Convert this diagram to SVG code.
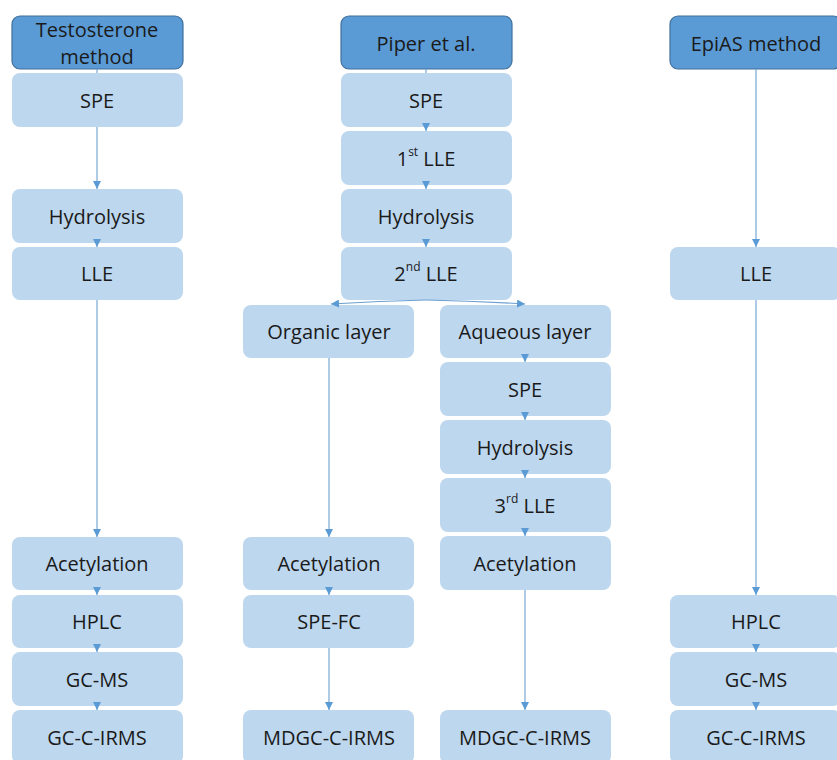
<svg xmlns="http://www.w3.org/2000/svg" width="837" height="760" viewBox="0 0 837 760">
<style>
.hdr{fill:#5b9bd5;stroke:#41719c;stroke-width:1.2}
.box{fill:#bdd7ee}
.t{font-family:"Open Sans","Liberation Sans",sans-serif;font-size:20px;fill:#1a1a1a;text-anchor:middle;dominant-baseline:central}
.sup{font-size:12px}
.c{fill:none;stroke:#6a9fd2;stroke-width:1.1}
</style>
<defs>
<marker id="ah" markerUnits="userSpaceOnUse" markerWidth="9" markerHeight="8" refX="8" refY="4" orient="auto">
<path d="M0,0 L8,4 L0,8 z" fill="#5b9bd5"/>
</marker>
</defs>
<rect width="837" height="760" fill="#ffffff"/>
<!-- column 1: Testosterone method -->
<g id="n-testo"><rect class="hdr" x="12" y="16" width="171" height="53" rx="8"/><text class="t" x="97" y="29">Testosterone</text><text class="t" x="97" y="56">method</text></g>
<g id="n-c1-spe"><rect class="box" x="12" y="73" width="171" height="54" rx="8"/><text class="t" x="97" y="100">SPE</text></g>
<g id="n-c1-hyd"><rect class="box" x="12" y="189" width="171" height="54" rx="8"/><text class="t" x="97" y="216">Hydrolysis</text></g>
<g id="n-c1-lle"><rect class="box" x="12" y="247" width="171" height="53" rx="8"/><text class="t" x="97" y="273">LLE</text></g>
<g id="n-c1-acet"><rect class="box" x="12" y="537" width="171" height="53" rx="8"/><text class="t" x="97" y="563">Acetylation</text></g>
<g id="n-c1-hplc"><rect class="box" x="12" y="595" width="171" height="53" rx="8"/><text class="t" x="97" y="621">HPLC</text></g>
<g id="n-c1-gcms"><rect class="box" x="12" y="652" width="171" height="54" rx="8"/><text class="t" x="97" y="679">GC-MS</text></g>
<g id="n-c1-irms"><rect class="box" x="12" y="710" width="171" height="54" rx="8"/><text class="t" x="97" y="737">GC-C-IRMS</text></g>
<!-- column 2: Piper et al. -->
<g id="n-piper"><rect class="hdr" x="341" y="16" width="171" height="53" rx="8"/><text class="t" x="426" y="43">Piper et al.</text></g>
<g id="n-p-spe"><rect class="box" x="341" y="73" width="171" height="54" rx="8"/><text class="t" x="426" y="100">SPE</text></g>
<g id="n-p-lle1"><rect class="box" x="341" y="131" width="171" height="54" rx="8"/><text class="t" x="426" y="158">1<tspan class="sup" dy="-7">st</tspan><tspan dy="7"> LLE</tspan></text></g>
<g id="n-p-hyd"><rect class="box" x="341" y="189" width="171" height="54" rx="8"/><text class="t" x="426" y="216">Hydrolysis</text></g>
<g id="n-p-lle2"><rect class="box" x="341" y="247" width="171" height="53" rx="8"/><text class="t" x="426" y="273">2<tspan class="sup" dy="-7">nd</tspan><tspan dy="7"> LLE</tspan></text></g>
<g id="n-org"><rect class="box" x="243" y="305" width="171" height="53" rx="8"/><text class="t" x="329" y="331">Organic layer</text></g>
<g id="n-org-acet"><rect class="box" x="243" y="537" width="171" height="53" rx="8"/><text class="t" x="329" y="563">Acetylation</text></g>
<g id="n-org-spefc"><rect class="box" x="243" y="595" width="171" height="53" rx="8"/><text class="t" x="329" y="621">SPE-FC</text></g>
<g id="n-org-mdgc"><rect class="box" x="243" y="710" width="171" height="54" rx="8"/><text class="t" x="329" y="737">MDGC-C-IRMS</text></g>
<g id="n-aq"><rect class="box" x="440" y="305" width="171" height="53" rx="8"/><text class="t" x="525" y="331">Aqueous layer</text></g>
<g id="n-aq-spe"><rect class="box" x="440" y="362" width="171" height="54" rx="8"/><text class="t" x="525" y="389">SPE</text></g>
<g id="n-aq-hyd"><rect class="box" x="440" y="420" width="171" height="54" rx="8"/><text class="t" x="525" y="447">Hydrolysis</text></g>
<g id="n-aq-lle3"><rect class="box" x="440" y="478" width="171" height="54" rx="8"/><text class="t" x="525" y="505">3<tspan class="sup" dy="-7">rd</tspan><tspan dy="7"> LLE</tspan></text></g>
<g id="n-aq-acet"><rect class="box" x="440" y="536" width="171" height="54" rx="8"/><text class="t" x="525" y="563">Acetylation</text></g>
<g id="n-aq-mdgc"><rect class="box" x="440" y="710" width="171" height="54" rx="8"/><text class="t" x="525" y="737">MDGC-C-IRMS</text></g>
<!-- column 4: EpiAS method -->
<g id="n-epias"><rect class="hdr" x="670" y="16" width="171" height="53" rx="8"/><text class="t" x="756" y="43">EpiAS method</text></g>
<g id="n-e-lle"><rect class="box" x="670" y="247" width="171" height="53" rx="8"/><text class="t" x="756" y="273">LLE</text></g>
<g id="n-e-hplc"><rect class="box" x="670" y="595" width="171" height="53" rx="8"/><text class="t" x="756" y="621">HPLC</text></g>
<g id="n-e-gcms"><rect class="box" x="670" y="652" width="171" height="54" rx="8"/><text class="t" x="756" y="679">GC-MS</text></g>
<g id="n-e-irms"><rect class="box" x="670" y="710" width="171" height="54" rx="8"/><text class="t" x="756" y="737">GC-C-IRMS</text></g>
<g id="connectors">
<!-- column 1 -->
<path class="c" d="M97,69 V73"/>
<path class="c" d="M97,127 V189" marker-end="url(#ah)"/>
<path class="c" d="M97,243 V247" marker-end="url(#ah)"/>
<path class="c" d="M97,300 V537" marker-end="url(#ah)"/>
<path class="c" d="M97,590 V595" marker-end="url(#ah)"/>
<path class="c" d="M97,648 V652" marker-end="url(#ah)"/>
<path class="c" d="M97,706 V710" marker-end="url(#ah)"/>
<!-- column 2 -->
<path class="c" d="M426,69 V73"/>
<path class="c" d="M426,127 V131" marker-end="url(#ah)"/>
<path class="c" d="M426,185 V189" marker-end="url(#ah)"/>
<path class="c" d="M426,243 V247" marker-end="url(#ah)"/>
<path class="c" d="M426,300 Q380,301 331,304" marker-end="url(#ah)"/>
<path class="c" d="M426,300 Q475,301 525,304" marker-end="url(#ah)"/>
<path class="c" d="M329,358 V537" marker-end="url(#ah)"/>
<path class="c" d="M329,590 V595" marker-end="url(#ah)"/>
<path class="c" d="M329,648 V710" marker-end="url(#ah)"/>
<path class="c" d="M525,358 V362" marker-end="url(#ah)"/>
<path class="c" d="M525,416 V420" marker-end="url(#ah)"/>
<path class="c" d="M525,474 V478" marker-end="url(#ah)"/>
<path class="c" d="M525,532 V536" marker-end="url(#ah)"/>
<path class="c" d="M525,590 V710" marker-end="url(#ah)"/>
<!-- column 4 -->
<path class="c" d="M756,69 V247" marker-end="url(#ah)"/>
<path class="c" d="M756,300 V595" marker-end="url(#ah)"/>
<path class="c" d="M756,648 V652" marker-end="url(#ah)"/>
<path class="c" d="M756,706 V710" marker-end="url(#ah)"/>
</g>
</svg>
